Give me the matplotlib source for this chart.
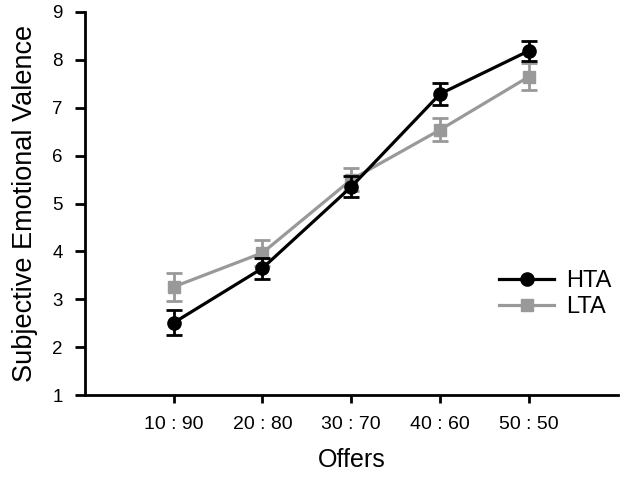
import matplotlib
matplotlib.use("Agg")
import matplotlib.pyplot as plt
from matplotlib.lines import Line2D
import numpy as np

plt.rcParams['font.family'] = ['Liberation Sans', 'DejaVu Sans']

offers = ["10 : 90", "20 : 80", "30 : 70", "40 : 60", "50 : 50"]
hta_mean = [2.51, 3.65, 5.35, 7.29, 8.19]
hta_err = [0.26, 0.22, 0.22, 0.23, 0.21]
lta_mean = [3.26, 3.97, 5.50, 6.54, 7.65]
lta_err = [0.29, 0.27, 0.24, 0.24, 0.28]

black = 'black'
gray = '#999999'

fig = plt.figure(figsize=(6.24, 4.8), dpi=100)
ax = fig.add_axes([0.136, 0.177, 0.854, 0.798])

x = np.arange(len(offers))
ax.errorbar(x, lta_mean, yerr=lta_err, color=gray, marker='s', markersize=8.5,
            linewidth=2.3, elinewidth=2, capsize=6, capthick=2, zorder=2)
ax.errorbar(x, hta_mean, yerr=hta_err, color=black, marker='o', markersize=9.5,
            linewidth=2.3, elinewidth=2, capsize=6, capthick=2, zorder=3)

ax.set_xlim(-1, 5)
ax.set_ylim(1, 9)
ax.set_xticks(x)
ax.set_xticklabels(offers, fontsize=14)
ax.set_yticks(range(1, 10))
ax.tick_params(axis='y', labelsize=13.5, width=2, length=7, direction='out', pad=9)
ax.tick_params(axis='x', width=2, length=6, direction='out', pad=9)
for s in ['top', 'right']:
    ax.spines[s].set_visible(False)
for s in ['left', 'bottom']:
    ax.spines[s].set_linewidth(2)

ax.set_xlabel("Offers", fontsize=18, labelpad=11)
ax.set_ylabel("Subjective Emotional Valence", fontsize=19.5, labelpad=10)

handles = [
    Line2D([], [], color=black, marker='o', markersize=9.5, linewidth=2.3),
    Line2D([], [], color=gray, marker='s', markersize=8.5, linewidth=2.3),
]
fig.legend(handles, ['HTA', 'LTA'], loc='center left',
           bbox_to_anchor=(499 / 624, 1 - 294 / 480), bbox_transform=fig.transFigure,
           frameon=False, fontsize=17, handlelength=2.35, handletextpad=0.5,
           labelspacing=0.15, borderpad=0, borderaxespad=0)

fig.savefig("out.png", dpi=100)
